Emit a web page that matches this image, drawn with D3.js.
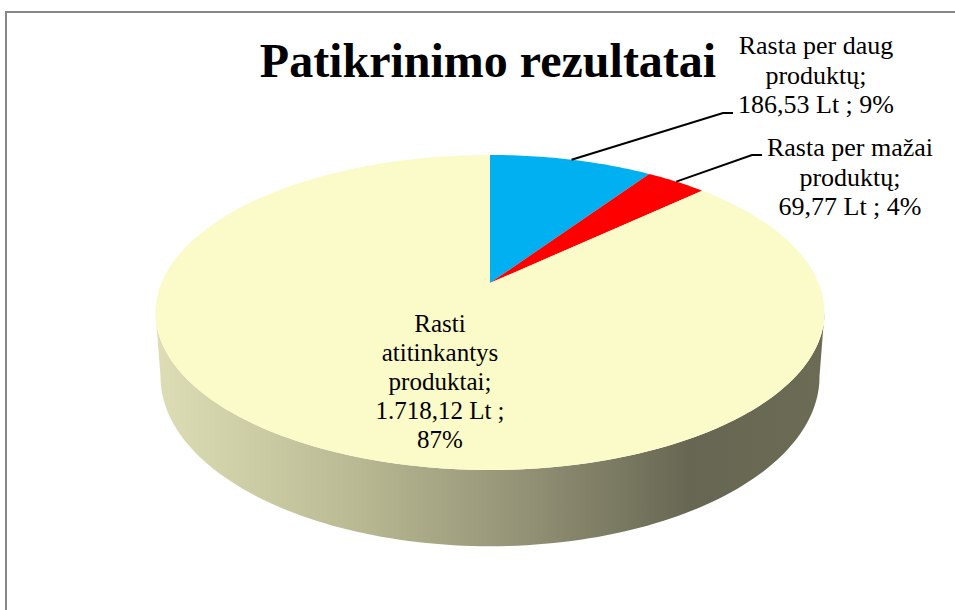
<!DOCTYPE html>
<html>
<head>
<meta charset="utf-8">
<script src="https://cdn.jsdelivr.net/npm/d3@7"></script>
<style>
  html,body{margin:0;padding:0;background:#fff;}
  svg{display:block;}
  text{font-family:"Liberation Serif","Times New Roman",Times,Tinos,"DejaVu Serif",serif;}
</style>
</head>
<body>
<div id="chart"></div>
<script>
(function(){
  const categories=["Rasta per daug produktų","Rasta per mažai produktų","Rasti atitinkantys produktai"];
  const values=[186.53,69.77,1718.12];
  const valueLabels=["186,53 Lt","69,77 Lt","1.718,12 Lt"];
  const percentLabels=["9%","4%","87%"];
  const colors=["#00B0F0","#FF0000","#FBFBC9"];
  const title="Patikrinimo rezultatai";

  const W=955,H=610;
  const svg=d3.select("#chart").append("svg").attr("width",W).attr("height",H);

  // frame of the chart area (cut off at right and bottom)
  svg.append("rect").attr("x",6).attr("y",12).attr("width",1000).attr("height",700)
    .attr("fill","none").attr("stroke","#878787").attr("stroke-width",2);

  // perspective projection of the unit disc
  const cx=490,cy=283,A=328.6,B=152,k=0.187,depth=62,bottomScale=0.985;
  const proj=(a,r=1)=>{
    const u=r*Math.sin(a),v=-r*Math.cos(a),d=1-k*v;
    return [cx+A*u/d,cy+B*v/d,d];
  };
  const projBottom=a=>{
    const [x,y,d]=proj(a);
    return [cx+(x-cx)*bottomScale,y+depth/d];
  };
  const line=d3.line();
  const samples=(a0,a1,n)=>d3.range(n+1).map(i=>a0+(a1-a0)*i/n);

  const arcs=d3.pie().sort(null).value(d=>d)(values);

  // side wall (front half)
  const aR=Math.acos(-k),aL=2*Math.PI-aR;
  const grad=svg.append("defs").append("linearGradient").attr("id","side")
    .attr("gradientUnits","userSpaceOnUse")
    .attr("x1",cx-A*1.02).attr("x2",cx+A*1.02).attr("y1",0).attr("y2",0);
  [[0,"#DEDEB6"],[0.3,"#B9B993"],[0.55,"#939276"],[0.8,"#676652"],[1,"#6C6B55"]]
    .forEach(([o,c])=>grad.append("stop").attr("offset",o).attr("stop-color",c));
  const topEdge=samples(aR,aL,120).map(a=>proj(a).slice(0,2));
  const botEdge=samples(aL,aR,120).map(projBottom);
  svg.append("path").attr("d",line(topEdge.concat(botEdge))+"Z").attr("fill","url(#side)");

  // top face slices
  svg.selectAll(".slice").data(arcs).join("path")
    .attr("class","slice")
    .attr("d",d=>{
      const n=Math.max(8,Math.ceil((d.endAngle-d.startAngle)*60));
      return line([[cx,cy]].concat(samples(d.startAngle,d.endAngle,n).map(a=>proj(a).slice(0,2))))+"Z";
    })
    .attr("fill",(d,i)=>colors[i]);

  // title
  svg.append("text").attr("x",488).attr("y",77)
    .attr("text-anchor","middle")
    .attr("font-weight","bold").attr("font-size",48)
    .text(title);

  // data labels
  const labelPos=[
    {x:816,y:54,lh:29.5,fs:26,lines:["Rasta per daug","produktų;",valueLabels[0]+" ; "+percentLabels[0]],ex:723,ey:113,hx:733},
    {x:850,y:156,lh:29.5,fs:26,lines:["Rasta per mažai","produktų;",valueLabels[1]+" ; "+percentLabels[1]],ex:752,ey:155,hx:762},
    {x:440,y:332,lh:29,fs:25,lines:["Rasti","atitinkantys","produktai;",valueLabels[2]+" ;",percentLabels[2]]}
  ];

  // leader lines from arc midpoint to label
  labelPos.forEach((p,i)=>{
    if(p.ex===undefined) return;
    const mid=(arcs[i].startAngle+arcs[i].endAngle)/2;
    const [sx,sy]=proj(mid);
    svg.append("path").attr("d",line([[sx,sy],[p.ex,p.ey],[p.hx,p.ey]]))
      .attr("fill","none").attr("stroke","#000").attr("stroke-width",2);
  });

  labelPos.forEach(p=>{
    const t=svg.append("text").attr("text-anchor","middle")
      .attr("font-size",p.fs).attr("fill","#000");
    p.lines.forEach((s,j)=>t.append("tspan").attr("x",p.x).attr("y",p.y+j*p.lh).text(s));
  });
})();
</script>
</body>
</html>
